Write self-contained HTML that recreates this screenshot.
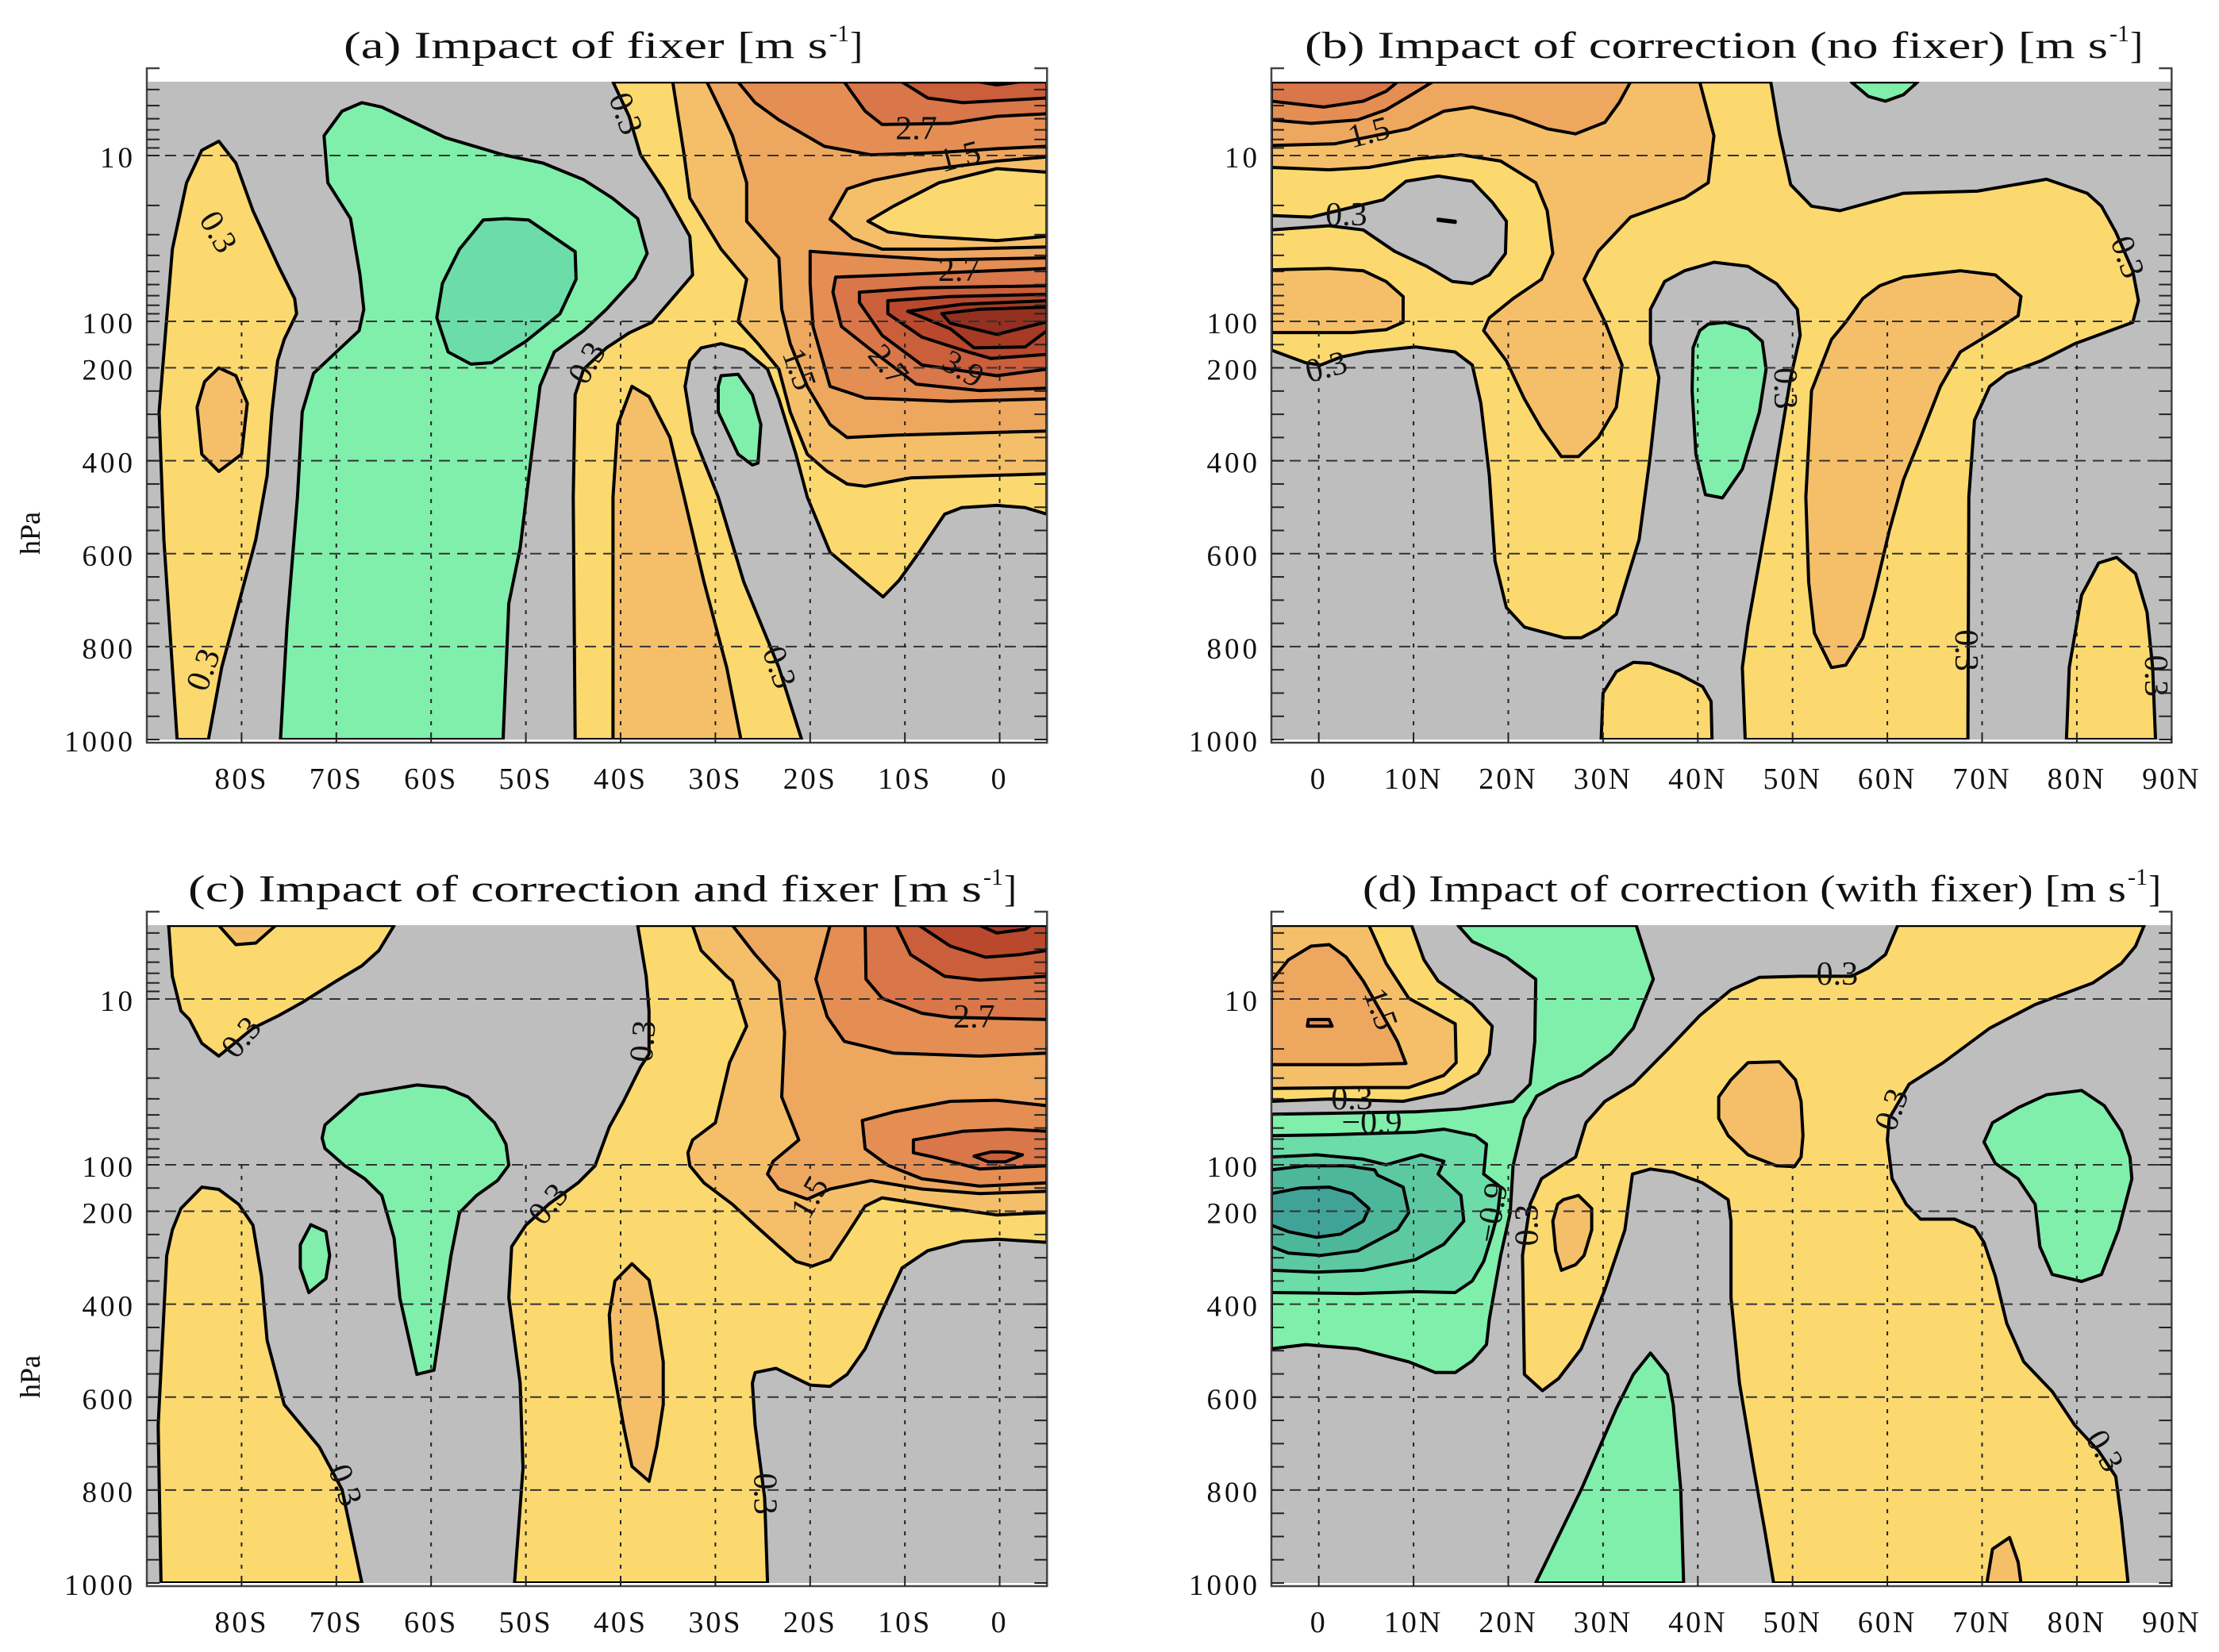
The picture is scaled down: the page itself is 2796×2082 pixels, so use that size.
<!DOCTYPE html>
<html><head><meta charset="utf-8">
<style>
html,body{margin:0;padding:0;background:#fff;}
svg{display:block;font-family:"Liberation Serif","DejaVu Serif",serif;}
</style></head>
<body>
<svg id="fig" xmlns="http://www.w3.org/2000/svg" width="2796" height="2082" viewBox="0 0 2796 2082"></svg>
<script>
// ---------- data ----------
const pressureTicks = [10,100,200,400,600,800,1000];
const pressureTickLabels = ["10","100","200","400","600","800","1000"];
const gridPressures = [10,100,200,400,600,800];
const minorPressures = [4,5,6,7,8,9,20,30,40,50,60,70,80,90,150,250,300,350,450,500,550,650,700,750,850,900,950];
const latTicksSouth = [-80,-70,-60,-50,-40,-30,-20,-10,0];
const latTickLabelsSouth = ["80S","70S","60S","50S","40S","30S","20S","10S","0"];
const latTicksNorth = [0,10,20,30,40,50,60,70,80,90];
const latTickLabelsNorth = ["0","10N","20N","30N","40N","50N","60N","70N","80N","90N"];
const levelColors = {"-5":"#41a397","-4":"#4db79b","-3":"#5cc9a3","-2":"#6cdca9","-1":"#7fefab","0":"#bebebe","1":"#fbd96f","2":"#f5bf69","3":"#eea75f","4":"#e48e54","5":"#d9764a","6":"#cb5e3b","7":"#b9482c","8":"#a63a24","9":"#93301f"};

const regionsA = [
 [1,[-86.8,1000,-88.2,570,-88.7,295,-87.9,95,-87.3,36.7,-85.8,14.6,-84.2,9.3,-82.4,8.2,-80.6,11.1,-78.8,21.5,-76.1,46.6,-74.4,73,-74.2,90,-75.5,139,-76.2,185,-76.8,295,-77.3,432,-78.5,570,-80.3,707,-82.1,845,-83.5,1000]],
 [2,[-82.4,200,-80.6,217,-79.4,276,-80,386,-82.4,423,-84.2,386,-84.7,285,-83.9,230]],
 [-1,[-75.9,1000,-75.2,753,-74.1,478,-73.6,295,-72.4,212,-70,166,-67.6,120,-67.1,84.6,-67.5,52.5,-68.5,24,-70.9,14.6,-71.3,7.6,-69.4,5.4,-67.3,4.8,-65.2,5.1,-58.5,7.8,-52.4,9.9,-48.2,11.1,-43.9,14,-40.9,18,-38.2,24,-37.2,39,-38.5,55,-41.5,84.6,-43.9,120,-47,166,-48.5,239,-49.4,386,-50.6,588,-51.8,707,-52.4,1000]],
 [-2,[-54.5,24.5,-52.1,24,-49.7,24.5,-44.8,38,-44.7,55.7,-46.4,90,-50,143,-53.6,189,-55.8,192,-58.2,166,-59.4,95,-58.8,59,-57,36.7]],
 [1,[-40.8,3.6,-39.1,5.8,-37.9,9.9,-35.5,15.9,-32.7,30.7,-32.4,52.5,-36.7,102,-39.1,125,-41.5,157,-43.9,203,-44.8,258,-45,478,-44.8,1000,-20.9,1000,-23.3,845,-27,661,-29.7,478,-32.4,340,-33.2,240,-32.7,185,-31.5,157,-29.4,148,-27,161,-24.5,203,-23.3,267,-21.5,386,-20.3,478,-17.9,597,-14.2,661,-12.3,693,-10.6,657,-8.8,606,-5.8,515,-4,501,-0.3,496,2.7,501,5,515,5,3.6]],
 [-1,[-29.4,217,-27.6,214,-26.1,258,-25.2,322,-25.5,405,-26.1,409,-27.6,386,-29.7,295,-29.7,240]],
 [2,[-40.8,1000,-40.8,478,-40.3,322,-38.8,240,-37,262,-34.8,350,-33.3,478,-31.2,661,-28.8,845,-27.3,1000]],
 [2,[-34.5,3.6,-33.3,9.9,-32.7,18,-29.4,36.7,-26.7,55.8,-27.6,101,-25.5,148,-23.3,203,-22.1,295,-20.3,386,-18.2,423,-16.1,450,-14.2,455,-9.4,437,5,428,5,3.6]],
 [3,[-30.9,3.6,-29.4,5.4,-28.2,7.6,-26.7,14.6,-26.7,24.9,-23.3,41.4,-23,84.6,-22.1,148,-20.3,240,-17.9,322,-16.1,350,-11.2,345,5,336,5,3.6]],
 [2,[-17.9,24.2,-16.1,15.9,-13.3,14.1,-7.6,12.2,-0.3,10.8,5,10.2,5,35.6,-5.2,36.7,-12.4,36.7,-15.5,31.6]],
 [1,[-13.9,24.9,-11.2,20.2,-6.4,14.6,-0.3,12,5,12.6,5,30.7,-0.3,32.6,-8.2,30.7,-11.8,28.9]],
 [4,[-27.6,3.6,-25.8,4.8,-23.3,6.1,-18.5,8.8,-13.6,9.9,-6.4,9.6,-0.3,9.1,5,8.8,5,3.6]],
 [5,[-16.4,3.6,-14.2,5.4,-12.4,6.5,-5.2,6.4,-0.3,5.8,5,5.6,5,3.6]],
 [6,[-10.3,3.6,-7.6,4.5,-3.9,4.8,5,4.5,5,3.6]],
 [7,[-2.1,3.6,-0.3,3.75,2.1,3.6]],
 [4,[-20,37.8,-14.2,40,-6.4,42.6,5,41.4,5,267,-5.2,272,-14.2,265,-17.9,240,-19.7,111,-20,59.2]],
 [5,[-17.3,54.1,-11.2,52.5,5,48,5,244,-2.1,249,-8.8,235,-13.6,161,-16.7,111,-17.6,66.7]],
 [6,[-14.8,66.7,-8.2,62.8,5,61,5,203,-0.3,217,-8.2,194,-12.4,130,-14.8,77]],
 [7,[-11.8,75.1,-5.2,70.8,5,68.7,5,171,-0.9,180,-3.3,166,-8.2,134,-11.8,89.8]],
 [8,[-9.7,87,-3.9,78.8,5,75.1,5,120,2.7,155,-2.7,157,-5.2,116]],
 [9,[-6.1,89.8,-2.1,84.6,5,82,5,101,-0.3,128,-5.2,104]]
];
const labelsA = [[-82.5,29,"0.3",60],[-84,850,"0.3",-70],[-39.5,5.6,"0.3",70],[-43.5,190,"0.3",-60],[-23.3,845,"0.3",70],[-8.8,6.9,"2.7",0],[-4.2,10.2,"1.5",-15],[-4.3,49.5,"2.7",0],[-21.2,203,"1.5",70],[-11.8,194,"2.7",50],[-3.9,203,"3.9",30]];

const regionsB = [
 [1,[47.7,3.6,48.6,7.3,49.8,15,52,20.2,55,21.5,61.7,16.9,69.5,16.4,76.8,13.9,81.1,16.9,82.6,20.2,84.1,28.9,85.9,49.5,86.5,75.1,85.9,102,79.8,148,76.2,185,72.6,212,70.8,240,69.2,313,68.6,478,68.5,1000,45,1000,44.7,845,45.3,753,46.5,616,47.7,478,48.9,331,49.8,221,50.8,130,50.5,84.6,48.3,59.2,45.3,46.6,41.7,44,38.6,49.5,36.5,57.5,35,84.6,35,148,35.9,221,35,386,33.8,570,31.4,730,29.5,762,27.7,781,25.9,781,21.7,758,19.8,716,18.6,616,18,432,17.1,276,16.2,194,14.4,166,10.2,155,5,166,2.3,177,0.2,194,-1.4,189,-5,162,-5,3.6]],
 [2,[-5,3.6,40.2,3.6,41.7,7.6,41.1,14.6,38.6,18,32.9,23.5,29.5,37.8,28,55.8,30.2,101,32,194,31.4,285,29.5,350,27.4,391,25.6,391,23.5,331,21.7,267,19.8,185,17.4,120,18,95.3,20.5,72.9,23.5,55.8,24.7,39,24.1,21.5,22.9,14.6,19.2,10.8,15,9.9,10.2,10.5,5.3,11.8,1.1,12.2,-5,11.8]],
 [0,[-5,23,-0.8,23.5,6.8,18.5,9.2,14.3,12.6,13.3,16.2,14.3,18.3,19.1,19.8,24.9,19.7,39,18,52.5,16.2,59.2,14.1,57.5,11.4,46.6,8,37.8,4.7,28.1,1.1,26.5,-5,28.1]],
 [2,[-5,48.9,1.1,47.9,4.7,49.5,7.1,57.5,8.9,70.8,8.9,102,7.1,118,3.5,124,-5,124]],
 [2,[61.7,54.1,67.7,49.5,71.4,52.5,74.1,70.8,73.8,92.5,71.4,120,67.7,166,65.6,240,63.5,350,61.7,441,60.2,551,58.6,689,57.4,781,55.6,840,54.1,845,52.3,771,51.7,661,51.4,478,52,249,54.1,139,55.6,102,57.4,72.9,59.2,61]],
 [3,[-5,3.6,32.9,3.6,31.7,4.8,30.2,6.3,27.1,7.4,24.1,6.9,20.5,5.8,16.2,5.1,13.2,5.4,9.5,6.9,1.7,8.5,-5,8.7]],
 [4,[-5,3.6,12,3.6,9.5,4.4,7.1,5.3,4.1,6.1,-0.8,6.4,-5,6.1]],
 [5,[-5,3.6,8.3,3.6,7.1,4.1,4.7,4.7,0.5,5.1,-5,4.7]],
 [-1,[56.2,3.6,58,4.4,59.8,4.7,61.7,4.3,63.2,3.6]],
 [-1,[41.1,106,42.9,102,45.3,116,46.8,143,47.2,203,46.5,295,44.7,418,42.6,480,40.8,473,39.8,386,39.4,249,39.5,157,40.2,120]],
 [1,[29.8,1000,30,900,31.4,854,33.2,834,35,836,38,859,40.5,886,41.4,918,41.5,1000]],
 [1,[78.9,1000,79.2,845,80.5,689,82.3,620,84.2,608,86.2,643,87.4,726,88,845,88.3,1000]],
 [-9,[12.6,24.2,14.4,24.9,14.4,25.3,12.6,24.6]]
];
const labelsB = [[5.3,7.3,"1.5",-15],[2.9,22.8,"0.3",0],[0.8,199,"0.3",-15],[49.2,244,"0.3",90],[85.3,41,"0.3",70],[68.3,808,"0.3",90],[88.3,863,"0.3",90]];

const regionsC = [
 [1,[-87.7,3.6,-63.9,3.6,-65.5,5.1,-67.3,6.3,-70,7.8,-73.6,10.5,-76.1,12.6,-78.8,15,-82.4,22.1,-84.2,18.5,-85.5,13.3,-86.4,11.8,-87.3,7.3]],
 [2,[-82.4,3.6,-76.4,3.6,-78.5,4.6,-80.6,4.7]],
 [1,[-38.2,3.6,-37.3,7.3,-37,11.8,-37,21.5,-37.9,25.7,-39.7,41.4,-41.2,59.2,-42.7,102,-44.5,139,-47.6,185,-50,230,-51.5,276,-51.8,386,-50.6,570,-50.3,753,-51.2,1000,-24.5,1000,-24.8,817,-25.8,661,-26.1,570,-25.8,547,-23.6,538,-20,574,-17.9,577,-16.1,551,-14.2,496,-12.4,414,-10.3,322,-7.6,285,-3.9,265,-0.3,260,5,267,5,3.6]],
 [1,[-88.5,1000,-88.8,661,-87.9,295,-87.3,240,-86.4,194,-84.2,148,-82.4,153,-80.3,185,-78.8,230,-77.9,340,-77.3,478,-75.5,616,-71.8,707,-69.4,799,-67.3,1000]],
 [-1,[-71.2,57.5,-67.6,37.8,-61.5,33,-58.5,34.2,-56.1,39,-53.3,55.8,-52.1,75.1,-51.8,101,-53,134,-55.2,166,-57,203,-57.9,295,-59.7,542,-61.5,551,-63.3,386,-63.9,258,-65.2,166,-67,130,-69.1,102,-71.2,79.7,-71.5,69]],
 [-1,[-72.7,229,-71.1,244,-70.7,295,-71.1,345,-72.9,375,-73.8,322,-73.8,272]],
 [2,[-38.8,313,-37,348,-36.2,432,-35.5,524,-35.5,616,-36.2,707,-37,781,-38.8,749,-39.7,661,-40.9,524,-41.2,423,-40.6,350]],
 [2,[-32.4,3.6,-31.5,5.1,-28.8,7.3,-28.2,7.8,-26.7,14.6,-28.5,24.2,-30,55.8,-32.4,70.8,-32.9,84.6,-32.7,102,-31.2,139,-28.2,185,-25.8,230,-23.3,276,-21.5,308,-19.8,318,-17.9,304,-16.1,249,-14.2,189,-12.4,171,-5.2,194,-0.3,208,5,203,5,3.6]],
 [3,[-28.2,3.6,-25.8,5.4,-23.3,7.8,-22.7,15.9,-23,39,-21.2,70.8,-23.9,95.3,-24.5,120,-23.3,152,-20.3,174,-17.9,152,-13.6,134,-8.2,152,-2.1,162,5,157,5,3.6]],
 [4,[-17.9,3.6,-19.4,7.6,-18.2,12.8,-16.4,18,-11.2,21.2,-2.1,22.1,5,21.2,5,3.6]],
 [4,[-14.5,54.1,-11.2,48,-5.2,41.4,-0.3,40.8,5,44,5,139,-2.1,146,-8.2,130,-11.8,101,-14.2,80]],
 [5,[-9.1,70.8,-3.9,62.8,0.9,61,5,62.8,5,102,-2.1,109,-7,89.8,-9.1,84.6]],
 [6,[-2.7,88.7,-0.9,83.6,0.9,83.6,2.4,87,0.6,96,-1.2,96]],
 [5,[-14.2,3.6,-14.1,7.6,-12.4,9.9,-8.2,12.2,-5.2,12.9,5,13.3,5,3.6]],
 [6,[-10.9,3.6,-9.4,5.4,-5.8,7.3,-2.1,7.7,5,7.3,5,3.6]],
 [7,[-8.5,3.6,-5.2,4.8,-1.5,5.6,2.1,5.4,5,5.1,5,3.6]],
 [8,[-2.1,3.6,-0.3,4,2.7,3.8,3.3,3.6]]
];
const labelsC = [[-80,17.1,"0.3",-50],[-37.6,18,"0.3",-85],[-47.6,185,"0.3",-50],[-20,171,"1.5",-60],[-2.7,12.9,"2.7",0],[-69.1,790,"0.3",70],[-24.8,808,"0.3",90]];

const regionsD = [
 [1,[61.1,3.6,59.8,5.4,58,6.5,56.2,7.3,50.8,7.3,46.5,7.4,43.5,8.8,40.2,12.6,36.8,20.2,33.2,32.6,30.2,41.4,28.2,55.8,27.1,89.8,25.3,106,23.5,130,22.3,185,21.5,295,21.7,551,23.6,586,25.3,560,27.7,496,30.2,368,32.3,240,33.1,120,35,109,37.4,116,40.5,139,43.2,175,43.5,221,43.5,386,44.4,570,45.9,753,47.1,891,48,1000,85.4,1000,84.7,863,84.1,771,82.3,716,79.8,661,77.4,588,74.4,524,72.6,441,71.4,340,70.2,267,69.2,235,67.1,217,63.5,217,62,185,60.5,130,60,70.8,60.2,52.5,62.3,32.6,65.9,24.2,70.8,15,75.6,10.8,81.7,8,84.7,6.1,86.2,4.8,87.1,3.6]],
 [2,[45.3,24.2,48.6,23.9,50.3,30.7,50.9,41.4,51.1,66.7,50.9,89.8,50.2,104,48.3,102,45.3,87,43.2,66.7,42.2,52.5,42.2,39,43.5,30.7]],
 [2,[25.8,175,27.4,166,28.8,194,28.8,240,28,295,27.1,315,25.6,327,25,285,24.7,221,25.2,185]],
 [2,[70.5,1000,71.1,927,72.9,902,73.8,955,74.1,1000]],
 [-1,[71.1,55.8,73.8,45.3,76.8,37.8,80.5,35.6,82.9,44,84.7,62.8,85.6,89.8,85.8,130,84.4,240,82.6,336,80.5,351,77.4,336,76.1,276,75.6,185,73.8,130,71.4,98,70.2,73]],
 [-1,[22.9,1000,27.7,799,31.4,625,33.2,551,35,505,36.8,551,37.4,616,38.2,799,38.5,1000]],
 [-1,[14.7,3.6,33.5,3.6,35.3,7.6,33.2,15,30.8,21.5,27.7,28.9,25.3,32.6,23,38.5,21.7,52.5,20.5,102,20.2,203,19.2,295,18,432,17.7,487,16.2,522,14.4,547,12.3,547,9.5,524,4.1,496,-1.4,487,-5,496,-5,49.5,1.1,48.9,10.2,47.9,15,46,20.5,41.4,22.3,32.6,22.8,18,22.9,7.6,19.8,5.6,16.2,4.5]],
 [1,[-5,3.6,9.8,3.6,11.1,5.8,12.6,7.8,16.2,10.8,18.3,14.6,18,21.5,16.8,28.1,13.2,36.7,8.9,41.4,1.1,40.1,-5,41.4]],
 [2,[-5,3.6,5.3,3.6,7.1,6.1,9.5,9.9,14.4,14.1,14.5,24.2,13.2,28.9,9.5,34.2,4.1,34.2,-5,34.6]],
 [3,[-5,7.8,-3.2,5.8,-0.8,4.8,1.1,4.7,2.9,5.6,4.7,7.8,6.5,11.8,8.3,18,9.2,24.5,4.1,24.9,-5,24.9]],
 [4,[-1.1,13.3,1.1,13.3,1.4,14.6,-1.2,14.6]],
 [-2,[-5,66.7,1.1,65.9,10.2,63.6,13.2,61,16.5,66.7,17.7,75.1,17.4,120,19.2,148,18.9,203,18.3,249,17.4,308,16.2,350,14.4,375,10.2,373,4.1,377,-5,375]],
 [-3,[-5,89.8,-0.2,87,4.7,92.5,7.1,100,10.8,87,13.2,95.3,12.6,120,15,166,15.3,221,13.2,271,10.2,304,4.7,327,-0.2,331,-5,327]],
 [-4,[-5,111,-1.4,102,2.9,102,5.9,111,6.2,122,8.9,148,9.5,203,8.3,240,4.1,285,0.2,295,-3.2,290,-5,276]],
 [-5,[-5,162,-2,150,1.1,148,3.5,162,5.3,194,4.7,221,2.3,249,-0.2,256,-3.2,244,-5,230]]
];
const labelsD = [[54.7,7.1,"0.3",0],[3.5,40,"0.3",0],[5.6,55.8,"\u22120.9",0],[6.5,11.5,"1.5",70],[18.3,203,"\u22120.9",-80],[22,230,"0.3",-90],[60.5,46.6,"0.3",-70],[82.9,716,"0.3",60]];

const titles = ["(a) Impact of fixer [m s","(b) Impact of correction (no fixer) [m s","(c) Impact of correction and fixer [m s","(d) Impact of correction (with fixer) [m s"];

// ---------- drawing ----------
const NS = "http://www.w3.org/2000/svg";
const svg = document.getElementById('fig');
function mk(tag, attrs, parent){
  const e = document.createElementNS(NS, tag);
  for (const k in attrs) e.setAttribute(k, attrs[k]);
  (parent||svg).appendChild(e);
  return e;
}
const DEG = 11.94, PTOP = 3.59;
function makeScales(x0, lat0, yOff){
  return {
    x: lat => x0 + (lat - lat0) * DEG,
    y: p => { const q = Math.max(PTOP, Math.min(1000, p));
      return yOff + (q >= 100 ? 405 + (q - 100) * 0.5856 : 405 - 209 * Math.log10(100 / q)); }
  };
}
const panels = [
  {id:'a', x0:185, lat0:-90, yOff:0, regions:regionsA, labels:labelsA, ticks:latTicksSouth, tl:latTickLabelsSouth, title:titles[0], tx:433, tw:650},
  {id:'b', x0:1602, lat0:-5, yOff:0, regions:regionsB, labels:labelsB, ticks:latTicksNorth, tl:latTickLabelsNorth, title:titles[1], tx:1644, tw:1052},
  {id:'c', x0:185, lat0:-90, yOff:1063, regions:regionsC, labels:labelsC, ticks:latTicksSouth, tl:latTickLabelsSouth, title:titles[2], tx:237, tw:1040},
  {id:'d', x0:1602, lat0:-5, yOff:1063, regions:regionsD, labels:labelsD, ticks:latTicksNorth, tl:latTickLabelsNorth, title:titles[3], tx:1717, tw:1002}
];

panels.forEach(P => {
  const s = makeScales(P.x0, P.lat0, P.yOff);
  const g = mk('g', {});
  
  
  const L = s.x(P.lat0), R = s.x(P.lat0 + 95), T = s.y(PTOP), B = s.y(1000);
  const clipId = 'clip' + P.id;
  const cp = mk('clipPath', {id: clipId}, g);
  mk('rect', {x:L, y:T, width:R-L, height:B-T}, cp);
  const bg = mk('rect', {x:L, y:T, width:R-L, height:B-T, fill:levelColors["0"]}, g);
  
  
  const cg = mk('g', {'clip-path':'url(#' + clipId + ')'}, g);
  P.regions.forEach((r, i) => {
    const lv = r[0], pts = r[1];
    let d = '';
    for (let k = 0; k < pts.length; k += 2) d += (k ? 'L' : 'M') + s.x(pts[k]).toFixed(1) + ',' + s.y(pts[k+1]).toFixed(1);
    d += 'Z';
    const fill = lv === -9 ? '#000' : levelColors[String(lv)];
    const e = mk('path', {d:d, fill:fill, stroke:'#000', 'stroke-width':4, 'stroke-linejoin':'round'}, cg);
    
    
  });
  gridPressures.forEach(p => {
    const e = mk('line', {x1:L, x2:R, y1:s.y(p), y2:s.y(p), stroke:'#333', 'stroke-width':2, 'stroke-dasharray':'14,9'}, g);
    
    
  });
  P.ticks.forEach(lat => {
    const e = mk('line', {x1:s.x(lat), x2:s.x(lat), y1:s.y(100), y2:B, stroke:'#222', 'stroke-width':2, 'stroke-dasharray':'5,9'}, g);
    
    
  });
  P.labels.forEach(lb => {
    const x = s.x(lb[0]), y = s.y(lb[1]);
    const e = mk('text', {x:x, y:y, 'font-size':42, 'text-anchor':'middle', 'dominant-baseline':'central', fill:'#111', transform:'rotate(' + lb[3] + ' ' + x + ' ' + y + ')'}, g);
    e.textContent = lb[2];
    
    
  });
  const frameTop = P.yOff + 86, axisB = B + 4;
  const ax = mk('path', {d:'M' + (L+16) + ',' + frameTop + 'H' + L + 'V' + axisB + 'H' + R + 'V' + frameTop + 'H' + (R-16), fill:'none', stroke:'#444', 'stroke-width':2.5}, g);
  
  
  minorPressures.concat(pressureTicks).forEach(p => {
    const y = s.y(p);
    const e1 = mk('line', {x1:L, x2:L+16, y1:y, y2:y, stroke:'#222', 'stroke-width':2}, g);
    
    
    const e2 = mk('line', {x1:R-16, x2:R, y1:y, y2:y, stroke:'#222', 'stroke-width':2}, g);
    
    
  });
  pressureTicks.forEach((p, i) => {
    const e = mk('text', {x:L-14, y:s.y(p)+15, 'font-size':37, 'text-anchor':'end', 'letter-spacing':4, fill:'#111'}, g);
    e.textContent = pressureTickLabels[i];
    
    
  });
  P.ticks.forEach((lat, i) => {
    const t = mk('line', {x1:s.x(lat), x2:s.x(lat), y1:axisB, y2:axisB-8, stroke:'#222', 'stroke-width':2}, g);
    
    
    const e = mk('text', {x:s.x(lat), y:P.yOff + 994, 'font-size':38, 'text-anchor':'middle', 'letter-spacing':3, fill:'#111'}, g);
    e.textContent = P.tl[i];
    
    
  });
  const hp = mk('text', {x:50, y:P.yOff + 672, 'font-size':36, 'text-anchor':'middle', fill:'#111', transform:'rotate(-90 50 ' + (P.yOff + 672) + ')'}, g);
  hp.textContent = 'hPa';
  
  
  const tt = mk('text', {x:P.tx, y:P.yOff + 73, 'font-size':48, fill:'#111', textLength:P.tw - 40, lengthAdjust:'spacingAndGlyphs'}, g);
  tt.textContent = P.title;
  
  
  const sup = mk('text', {x:P.tx + P.tw - 38, y:P.yOff + 52, 'font-size':30, fill:'#111'}, g);
  sup.textContent = '-1';
  
  
  const br = mk('text', {x:P.tx + P.tw - 12, y:P.yOff + 73, 'font-size':48, fill:'#111'}, g);
  br.textContent = ']';
  
  
});
</script>
</body></html>
